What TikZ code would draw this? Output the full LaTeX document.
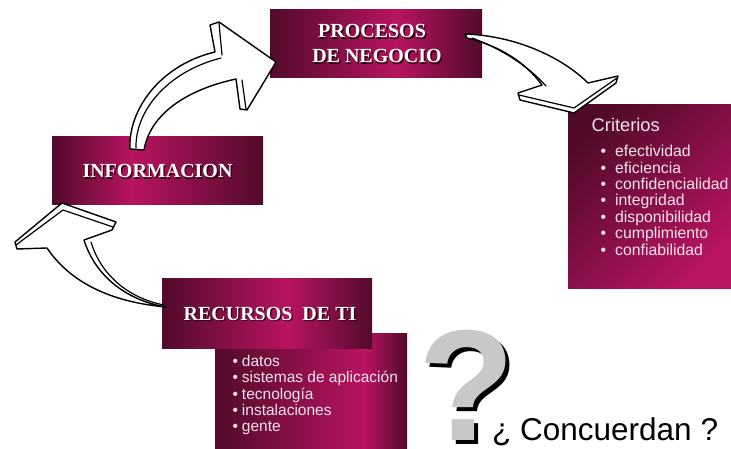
\documentclass[tikz,border=0pt]{standalone}
\usepackage{fontspec}
\setmainfont{Liberation Serif}
\newfontfamily\arialf{Liberation Sans}
\definecolor{mdark}{HTML}{520A2C}
\definecolor{mbright}{HTML}{B8145F}
\definecolor{ltxt}{HTML}{F3E3EC}
\definecolor{tshadow}{HTML}{2A0012}
\definecolor{qgrey}{HTML}{C8C8C8}
\pgfdeclarehorizontalshading{shadeA}{100bp}{color(0bp)=(mdark); color(25bp)=(mdark); color(55bp)=(mbright); color(75bp)=(mdark); color(100bp)=(mdark)}
\pgfdeclarehorizontalshading{shadeI}{100bp}{color(0bp)=(mdark); color(25bp)=(mdark); color(44bp)=(mbright); color(75bp)=(mdark); color(100bp)=(mdark)}
\pgfdeclarehorizontalshading{shadeL}{100bp}{color(0bp)=(mdark); color(25bp)=(mdark); color(64bp)=(mbright); color(75bp)=(mdark); color(100bp)=(mdark)}
\newcommand\shtxt[1]{\makebox[0pt][l]{\hspace{1.3pt}\raisebox{-1.3pt}{\textcolor{tshadow}{#1}}}#1}
\begin{document}
\begin{tikzpicture}[x=1pt,y=-1pt,
  boxn/.style={draw=none,inner sep=0pt,minimum width=#1},
  ttl/.style={text=white,inner sep=0pt,font=\fontsize{20}{25}\selectfont\bfseries},
  litem/.style={text=ltxt,inner sep=0pt,font=\arialf\fontsize{15.5}{16}\selectfont},
  citem/.style={text=ltxt,inner sep=0pt,font=\arialf\fontsize{15.8}{16}\selectfont},
  harrow/.style={fill=white,draw=black,line width=1.4pt,line join=round},
  hline/.style={draw=black,line width=1.2pt,line join=round,line cap=round}]
\useasboundingbox[fill=white] (0,0) rectangle (731,449);

% boxes
\node[boxn=192pt,minimum height=115pt,shading=shadeL] (listbox) at (311,390.5) {};
\node[boxn=212pt,minimum height=68pt,shading=shadeA] (proc) at (376,44) {};
\node[boxn=211pt,minimum height=68pt,shading=shadeI] (info) at (157.5,171) {};
\node[boxn=210pt,minimum height=70pt,shading=shadeA] (recur) at (267,313) {};
\node[boxn=163pt,minimum height=183pt,top color=mdark,bottom color=mbright,shading angle=45] (crit) at (649.5,196.5) {};

% titles
\node[ttl,anchor=base] (procA) at (372,38) {\shtxt{PROCESOS}};
\node[ttl,anchor=base] (procB) at (377,63) {\shtxt{DE NEGOCIO}};
\node[ttl,anchor=base] (infoT) at (157.5,178) {\shtxt{INFORMACION}};
\node[ttl,anchor=base] (recT) at (270,320) {\shtxt{RECURSOS\ \ DE TI}};

% lists
\foreach \t [count=\i from 0] in {datos,sistemas de aplicación,tecnología,instalaciones,gente}
  \node[litem,anchor=base west] (li\i) at (232.5,366.7+16.25*\i) {\makebox[9.3pt][l]{•}\t};
\node[citem,anchor=base west,font=\arialf\fontsize{18.3}{20}\selectfont] (critT) at (591.5,131.7) {Criterios};
\foreach \t [count=\i from 0] in {efectividad,eficiencia,confidencialidad,integridad,disponibilidad,cumplimiento,confiabilidad}
  \node[citem,anchor=base west] (cr\i) at (600.3,156.7+16.4*\i) {\makebox[14.7pt][l]{•}\t};

% question
\node[anchor=base west,inner sep=0pt,text=black,font=\arialf\bfseries\fontsize{158}{160}\selectfont] (qs) at (422,444) {?};
\node[anchor=base west,inner sep=0pt,text=qgrey,font=\arialf\bfseries\fontsize{158}{160}\selectfont] (qm) at (418,440) {?};
\node[anchor=base west,inner sep=0pt,text=black,font=\arialf\fontsize{31.5}{32}\selectfont] (conc) at (492,440) {¿ Concuerdan ?};

% arrow 1: INFORMACION -> PROCESOS
\coordinate (a1t) at (130,149);
\draw[harrow] (a1t) .. controls (128,110) and (160,65) .. (215,52) -- (210,25) -- (219,22) -- (276,62) -- (247,110) -- (240,109) -- (236,79)
  .. controls (185,90) and (150,115) .. (144,150) -- cycle;
\draw[hline] (136,148) .. controls (135,112) and (166,72) .. (221,58);
\draw[hline] (219,23) -- (222,55);
\draw[hline] (242,80) -- (246,109);

% arrow 2: PROCESOS -> Criterios
\coordinate (a2t) at (465,34);
\draw[harrow] (a2t) .. controls (520,36) and (565,60) .. (588,83) -- (618,76) -- (616,83) -- (574,113) -- (520,100) -- (518,93) -- (542,85)
  .. controls (525,62) and (500,46) .. (467,38) -- cycle;
\draw[hline] (472,38) .. controls (502,49) and (528,66) .. (546,86);
\draw[hline] (519,95) -- (574,108) -- (617,78);

% arrow 3: RECURSOS -> INFORMACION
\coordinate (a3t) at (166,307);
\draw[harrow] (62,203) -- (116,222) -- (112,230) -- (84,240) .. controls (95,275) and (125,300) .. (a3t)
  .. controls (110,302) and (70,282) .. (47,248) -- (17,249) -- (15,242) -- cycle;
\draw[hline] (91,242) .. controls (101,275) and (128,298) .. (164,305);
\draw[hline] (16,245) -- (63,210) -- (113,227);
\end{tikzpicture}
\end{document}
